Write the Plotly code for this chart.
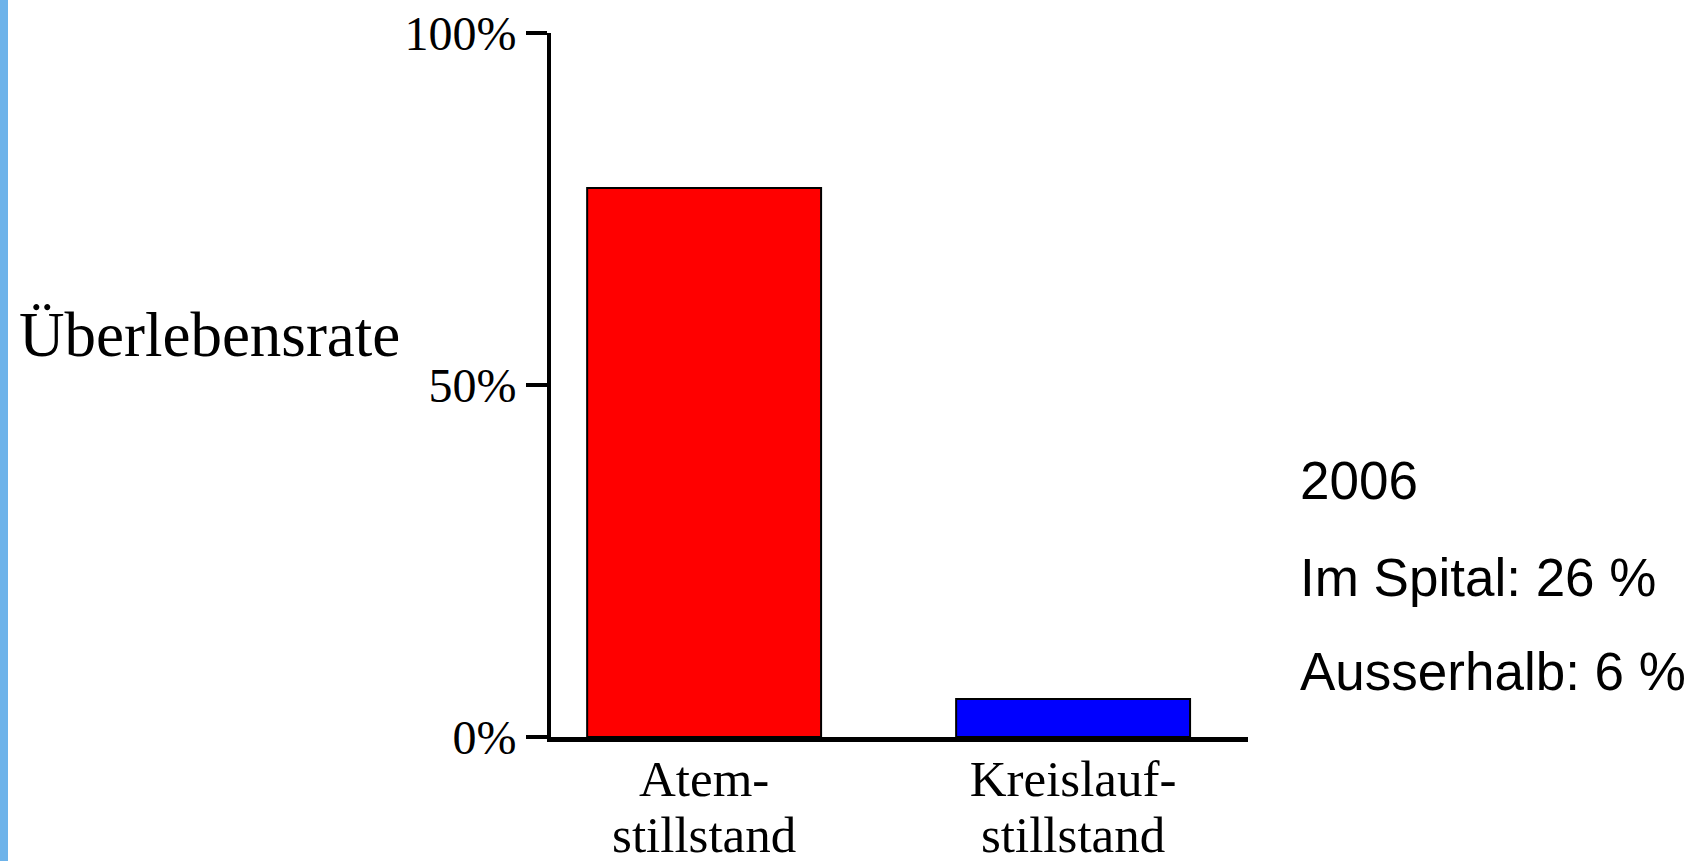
import plotly.graph_objects as go

categories = ["Atem-|stillstand", "Kreislauf-|stillstand"]
survival = [78, 5.4]
bar_colors = ["#ff0000", "#0000ff"]
y_ticks = [0, 50, 100]
y_tick_labels = ["0%", "50%", "100%"]
y_title = "Überlebensrate"
side_notes = ["2006", "Im Spital: 26 %", "Ausserhalb: 6 %"]

W, H = 1700, 861
L, R, T, B = 551, 452, 33, 124
pw, ph = W - L - R, H - T - B

def px_x(px):
    return (px - L) / pw

def px_y(py):
    return (H - B - py) / ph

def fmt_cat(c):
    return "<br>".join(f"<span style='font-size:51px'>{p}</span>" for p in c.split("|"))

fig = go.Figure()
fig.add_trace(go.Bar(
    x=categories, y=survival,
    marker=dict(color=bar_colors, line=dict(color="black", width=2)),
    width=0.634,
))

fig.update_layout(
    width=W, height=H,
    margin=dict(l=L, r=R, t=T, b=B, autoexpand=False),
    paper_bgcolor="white", plot_bgcolor="white",
    showlegend=False,
    xaxis=dict(
        range=[-0.415, 1.474], automargin=False,
        tickvals=categories, ticktext=[fmt_cat(c) for c in categories],
        showline=True, linecolor="black", linewidth=5,
        ticks="", showgrid=False, zeroline=False,
        tickfont=dict(family="Liberation Serif", size=43, color="black"),
        ticklabelstandoff=2,
    ),
    yaxis=dict(
        range=[0, 100], automargin=False,
        tickvals=y_ticks, ticktext=y_tick_labels,
        showline=True, linecolor="black", linewidth=4,
        ticks="outside", ticklen=21, tickwidth=4, tickcolor="black",
        showgrid=False, zeroline=False,
        tickfont=dict(family="Liberation Serif", size=48, color="black"),
    ),
    shapes=[dict(type="rect", xref="paper", yref="paper",
                 x0=px_x(0), x1=px_x(8), y0=px_y(H), y1=px_y(0),
                 fillcolor="#6db3ea", line=dict(width=0), layer="below")],
)

fig.add_annotation(text=y_title, xref="paper", yref="paper",
                   x=px_x(17), y=px_y(335), xanchor="left", yanchor="middle",
                   showarrow=False,
                   font=dict(family="Liberation Serif", size=63, color="black"))

note_y = [480, 577, 671]
for txt, yy in zip(side_notes, note_y):
    fig.add_annotation(text=txt, xref="paper", yref="paper",
                       x=px_x(1298), y=px_y(yy), xanchor="left", yanchor="middle",
                       showarrow=False,
                       font=dict(family="Liberation Sans", size=53, color="black"))

fig.write_html("out.html")
